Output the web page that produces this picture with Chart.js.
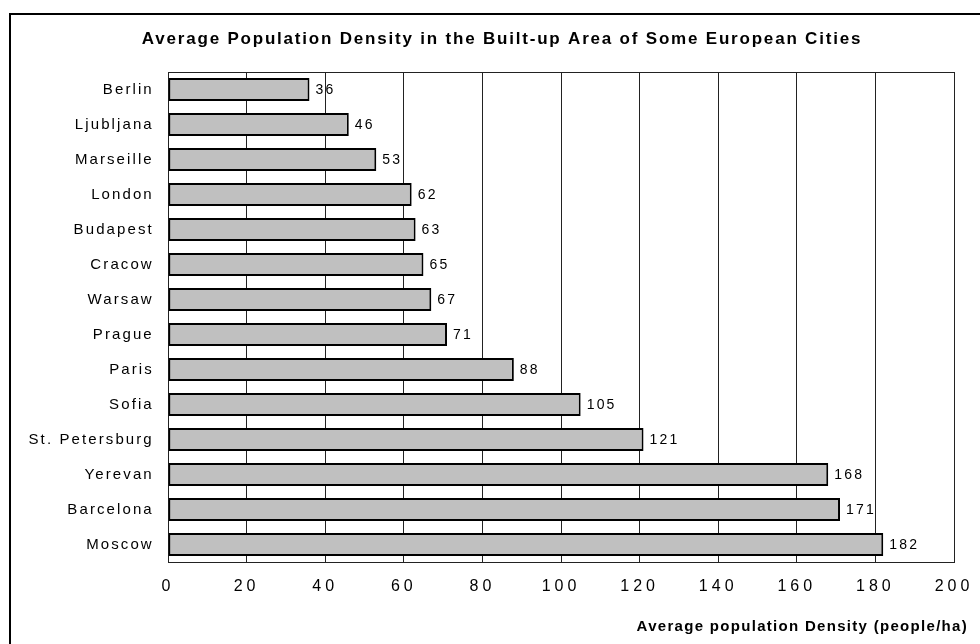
<!DOCTYPE html>
<html>
<head>
<meta charset="utf-8">
<title>Average Population Density in the Built-up Area of Some European Cities</title>
<script src="https://cdn.jsdelivr.net/npm/chart.js@4/dist/chart.umd.min.js"></script>
<style>
  html, body { margin: 0; padding: 0; background: #fff; }
  canvas { display: block; }
</style>
</head>
<body>
<canvas id="chart" width="980" height="644"></canvas>
<script>
// ---- data ----
const cities = [
  'Berlin', 'Ljubljana', 'Marseille', 'London', 'Budapest', 'Cracow', 'Warsaw',
  'Prague', 'Paris', 'Sofia', 'St. Petersburg', 'Yerevan', 'Barcelona', 'Moscow'
];
const density = [36, 46, 53, 62, 63, 65, 67, 71, 88, 105, 121, 168, 171, 182];
const xTickValues = [0, 20, 40, 60, 80, 100, 120, 140, 160, 180, 200];
const chartTitle = 'Average Population Density in the Built-up Area of Some European Cities';
const xAxisTitle = 'Average population Density (people/ha)';

// ---- styling ----
const FAMILY = "'Liberation Sans', Arial, Helvetica, sans-serif";
const INK = '#000';
const LINE = '#222';

// Wide, letter-spaced lettering: spacing chosen per font (weight + size).
const SPACING = { 'b17': '1.8px', 'b15': '1.3px', '16': '4px', '15': '2.1px', '14': '2.2px' };
function spacingFor(font) {
  const m = /(bold\s+)?([\d.]+)px/.exec(font || '');
  if (!m) return '0px';
  return SPACING[(m[1] ? 'b' : '') + m[2]] || '0px';
}

const canvas = document.getElementById('chart');
const ctx2d = canvas.getContext('2d');
const proto = CanvasRenderingContext2D.prototype;
ctx2d.fillText = function () {
  this.letterSpacing = spacingFor(this.font);
  return proto.fillText.apply(this, arguments);
};
ctx2d.measureText = function () {
  this.letterSpacing = spacingFor(this.font);
  return proto.measureText.apply(this, arguments);
};

// White page with the outer frame of the chart object.
const framePlugin = {
  id: 'frame',
  beforeDraw(chart) {
    const c = chart.ctx;
    c.save();
    c.fillStyle = '#fff';
    c.fillRect(0, 0, chart.width, chart.height);
    c.strokeStyle = '#000';
    c.lineWidth = 2;
    c.strokeRect(10, 14, chart.width + 40, chart.height + 40);
    c.restore();
  }
};

// Let the category labels use the whole left margin (long names like "St. Petersburg").
const labelRoomPlugin = {
  id: 'labelRoom',
  afterLayout(chart) {
    const y = chart.scales.y;
    y.left = 0;
    y.width = y.right;
  }
};

// Border round the plot area.
const plotBorderPlugin = {
  id: 'plotBorder',
  beforeDatasetsDraw(chart) {
    const { left, top, right, bottom } = chart.chartArea;
    const c = chart.ctx;
    c.save();
    c.strokeStyle = LINE;
    c.lineWidth = 1;
    const x0 = Math.round(left) + 0.5, y0 = Math.round(top) + 0.5;
    const x1 = Math.round(right) + 0.5, y1 = Math.round(bottom) + 0.5;
    c.strokeRect(x0, y0, x1 - x0, y1 - y0);
    c.restore();
  }
};

// Value printed just past the end of each bar.
const valueLabelPlugin = {
  id: 'valueLabels',
  afterDatasetsDraw(chart) {
    const meta = chart.getDatasetMeta(0);
    const values = chart.data.datasets[0].data;
    const c = chart.ctx;
    c.save();
    c.font = '14px ' + FAMILY;
    c.fillStyle = INK;
    c.textAlign = 'left';
    c.textBaseline = 'middle';
    meta.data.forEach((bar, i) => {
      c.fillText(String(values[i]), bar.x + 6, bar.y + 1);
    });
    c.restore();
  }
};

new Chart(canvas, {
  type: 'bar',
  data: {
    labels: cities,
    datasets: [{
      data: density,
      backgroundColor: '#c0c0c0',
      borderColor: '#000',
      borderWidth: 2,
      borderSkipped: false,
      barPercentage: 0.66,
      categoryPercentage: 1
    }]
  },
  options: {
    indexAxis: 'y',
    responsive: false,
    animation: false,
    devicePixelRatio: 1,
    events: [],
    layout: { padding: { left: 36, right: 12, top: 0, bottom: 0 } },
    plugins: {
      legend: { display: false },
      tooltip: { enabled: false },
      title: {
        display: true,
        text: chartTitle,
        color: INK,
        font: { family: FAMILY, size: 17, weight: 'bold' },
        padding: { top: 29, bottom: 22.6 }
      },
      subtitle: {
        display: true,
        position: 'bottom',
        align: 'end',
        text: xAxisTitle,
        color: INK,
        font: { family: FAMILY, size: 15, weight: 'bold' },
        padding: { top: 4, bottom: 8 }
      }
    },
    scales: {
      x: {
        type: 'linear',
        position: 'bottom',
        min: 0,
        max: 200,
        afterBuildTicks(scale) {
          scale.ticks = xTickValues.map(v => ({ value: v }));
        },
        grid: { color: LINE, lineWidth: 1, drawTicks: false },
        border: { display: true, color: LINE, width: 1 },
        ticks: {
          color: INK,
          font: { family: FAMILY, size: 16 },
          padding: 15.4,
          maxRotation: 0
        },
        afterFit(scale) {
          scale.height = 52;
          scale.paddingLeft = 0;
          scale.paddingRight = 26;
        }
      },
      y: {
        grid: { display: false, drawTicks: false },
        border: { display: true, color: LINE, width: 1 },
        ticks: {
          color: INK,
          font: { family: FAMILY, size: 15 },
          padding: 14.2
        },
        afterFit(scale) {
          scale.width = 132;
        }
      }
    }
  },
  plugins: [framePlugin, labelRoomPlugin, plotBorderPlugin, valueLabelPlugin]
});
</script>
</body>
</html>
